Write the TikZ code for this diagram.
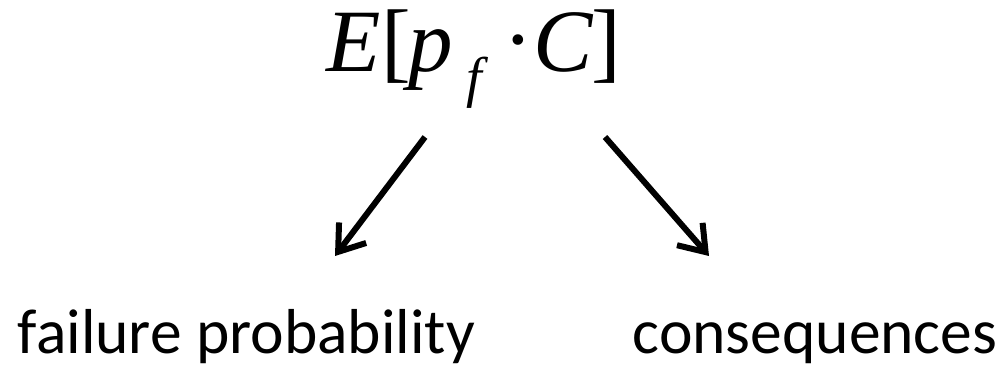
\documentclass[tikz,border=0pt]{standalone}
\usepackage{fontspec}
\setmainfont{Liberation Serif}
\newfontfamily\labelfont{Carlito}
\usetikzlibrary{arrows.meta}
\tikzset{
  glyph/.style={inner sep=0pt, outer sep=0pt, anchor=base, font=\fontsize{89}{89}\selectfont},
  subglyph/.style={inner sep=0pt, outer sep=0pt, anchor=base, font=\fontsize{56}{56}\selectfont},
  lbl/.style={inner sep=0pt, outer sep=0pt, anchor=base, font=\labelfont\fontsize{63.5}{63.5}\selectfont},
  arr/.style={line width=6pt, -{Straight Barb[length=24pt,width=34pt,line width=6pt]}}
}
\begin{document}
\begin{tikzpicture}[x=1pt,y=-1pt]
\useasboundingbox (0,0) rectangle (1002,366);
\node[glyph] (E) at (354,72) {\itshape E};
\node[glyph] (lb) at (396,72) {[};
\node[glyph] (p) at (431,72) {\itshape p};
\node[subglyph] (f) at (474,97) {\itshape f};
\node[glyph] (dot) at (518,70) {·};
\node[glyph] (C) at (563,72) {\itshape C};
\node[glyph] (rb) at (606,72) {]};
\node[lbl] (fail) at (246.5,353.5) {failure probability};
\node[lbl] (cons) at (815,353.5) {consequences};
\coordinate (ls) at (425,137);
\coordinate (le) at (335,256);
\coordinate (rs) at (605,137);
\coordinate (re) at (709,256);
\draw[arr] (ls) -- (le);
\draw[arr] (rs) -- (re);
\end{tikzpicture}
\end{document}
